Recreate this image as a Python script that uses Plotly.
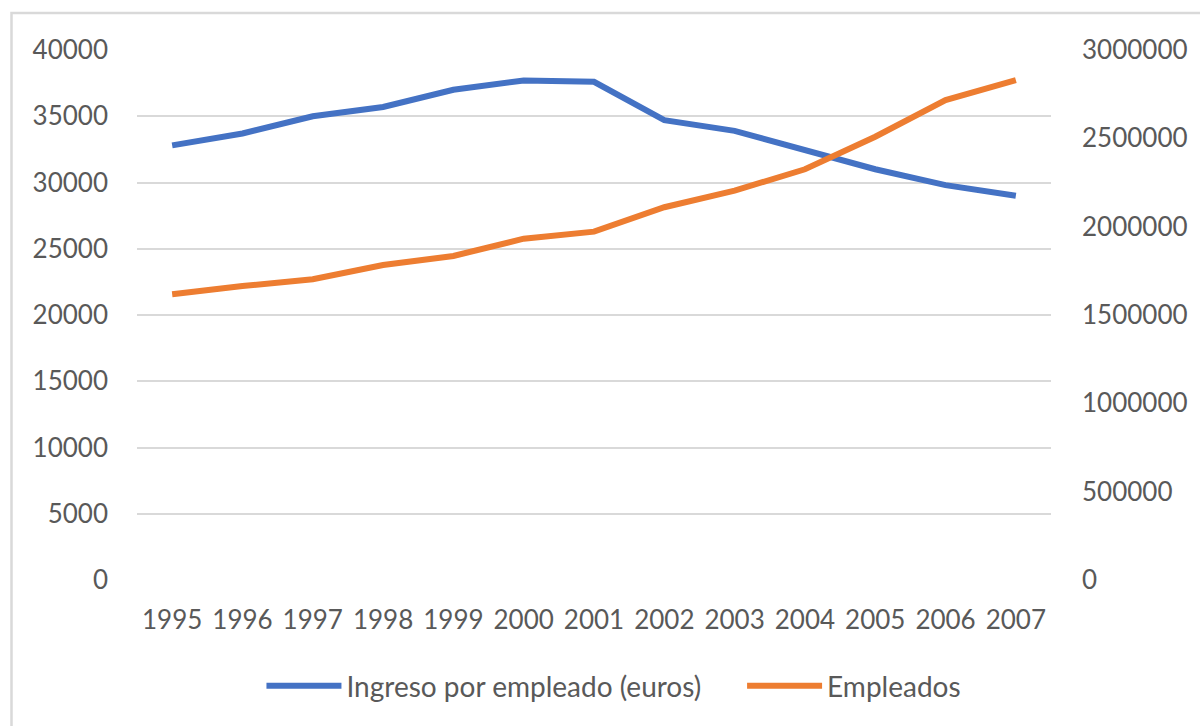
import plotly.graph_objects as go

BLUE = "#4472C4"
ORANGE = "#ED7D31"
GRID = "#D9D9D9"
TEXT = "#595959"

years = [str(y) for y in range(1995, 2008)]
ingreso = [32800, 33700, 35000, 35700, 37000, 37700, 37600,
           34700, 33900, 32500, 31000, 29800, 29000]
empleados = [1617000, 1664000, 1702000, 1783000, 1834000, 1932000, 1972000,
             2110000, 2204000, 2325000, 2509000, 2717000, 2830000]

left_ticks = list(range(0, 40001, 5000))
right_ticks = list(range(0, 3000001, 500000))

# Excel leaves a wide gap between the two legend entries; pad with no-break spaces
GAP = "\u00a0" * 5

fig = go.Figure()
fig.add_scatter(
    x=years, y=ingreso, name="Ingreso por empleado (euros)" + GAP, mode="lines",
    line=dict(color=BLUE, width=6),
)
fig.add_scatter(
    x=years, y=empleados, name="Empleados", mode="lines", yaxis="y2",
    line=dict(color=ORANGE, width=6),
)

fig.update_layout(
    width=1200,
    height=726,
    margin=dict(l=137, r=145, t=50, b=146),
    paper_bgcolor="white",
    plot_bgcolor="white",
    font=dict(family="Lato, Open Sans, sans-serif", color=TEXT, size=26),
    showlegend=True,
    legend=dict(
        orientation="h", xanchor="left", x=(262 - 137) / 918, yanchor="middle", y=-0.2,
        itemwidth=75, font=dict(size=28, color=TEXT),
    ),
    xaxis=dict(
        type="category", range=[-0.5, len(years) - 0.5], showgrid=False,
        showline=False, zeroline=False, ticks="", ticklabelstandoff=22,
    ),
    yaxis=dict(
        range=[0, 40000], tickvals=left_ticks, ticktext=[str(v) for v in left_ticks],
        showgrid=True, gridcolor=GRID, gridwidth=2, zeroline=False, showline=False,
        ticks="", ticklabelstandoff=28,
    ),
    yaxis2=dict(
        overlaying="y", side="right", range=[0, 3000000], tickvals=right_ticks,
        ticktext=[str(v) for v in right_ticks], showgrid=False, zeroline=False,
        showline=False, ticks="", ticklabelstandoff=30,
    ),
    shapes=[
        dict(type="rect", xref="paper", yref="paper",
             x0=-0.1373, x1=1.3, y0=-0.6, y1=1.0698,
             line=dict(color=GRID, width=2.5), fillcolor="rgba(0,0,0,0)", layer="below"),
    ],
)

# the page body keeps a default 8px margin; drop it so the chart sits at 0,0
fig.write_html(
    "out.html",
    config={"displayModeBar": False},
    post_script="document.body.style.margin='0';",
)
